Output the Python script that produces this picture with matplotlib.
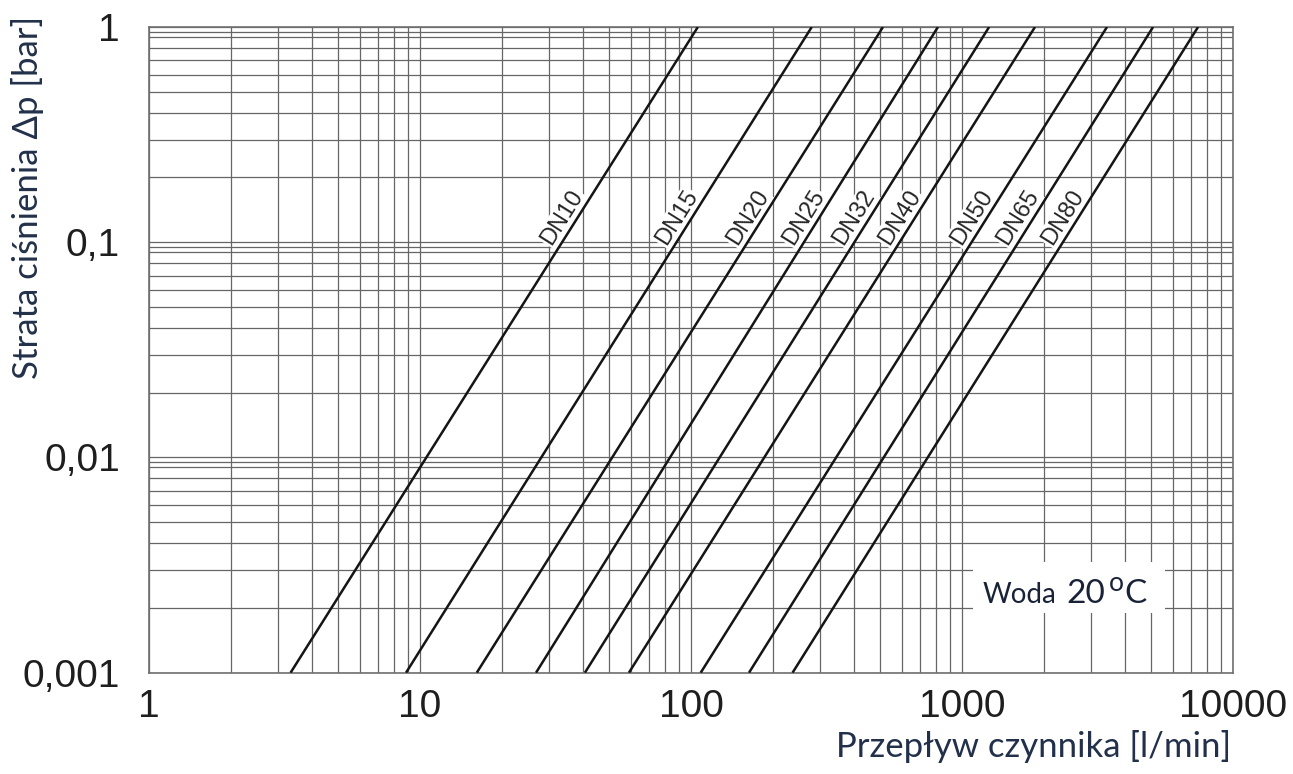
import numpy as np
import matplotlib
matplotlib.use('Agg')
import matplotlib.pyplot as plt
from matplotlib.ticker import LogLocator, NullFormatter
from matplotlib.patches import Rectangle

# pipe sizes and flow [l/min] read at both ends of each line
dn_labels = ['DN10', 'DN15', 'DN20', 'DN25', 'DN32', 'DN40', 'DN50', 'DN65', 'DN80']
flow_at_1bar = [106, 279, 511, 815, 1259, 1859, 3428, 5070, 7430]
flow_at_1mbar = [3.33, 8.88, 16.2, 26.8, 40.6, 59.0, 108.6, 163.7, 237]
dp_top = 1.0
dp_bottom = 0.001
dp_label = 0.13

x_ticks = [1, 10, 100, 1000, 10000]
x_ticklabels = ['1', '10', '100', '1000', '10000']
y_ticks = [0.001, 0.01, 0.1, 1]
y_ticklabels = ['0,001', '0,01', '0,1', '1']

W, H = 1293, 774
fig = plt.figure(figsize=(W / 100, H / 100), dpi=100)
ax = fig.add_axes([149 / W, (H - 672.7) / H, 1084 / W, 645.7 / H])

ax.set_xscale('log')
ax.set_yscale('log')
ax.set_xlim(1, 10000)
ax.set_ylim(0.001, 1)

grid_col = '#666666'
ax.xaxis.set_minor_locator(LogLocator(base=10, subs=[2, 3, 4, 5, 6, 7, 8, 9]))
ax.yaxis.set_minor_locator(LogLocator(base=10, subs=[2, 3, 4, 5, 6, 7, 8, 9, 9.5]))
ax.xaxis.set_minor_formatter(NullFormatter())
ax.yaxis.set_minor_formatter(NullFormatter())
ax.grid(True, which='both', color=grid_col, lw=0.9, zorder=1)
ax.set_axisbelow(True)

ax.set_xticks(x_ticks, x_ticklabels)
ax.set_yticks(y_ticks, y_ticklabels)
ax.tick_params(which='both', length=0)
ax.tick_params(axis='x', pad=12, labelsize=28, labelcolor='#1e1e1e')
ax.tick_params(axis='y', pad=21, labelsize=28, labelcolor='#1e1e1e')
for lab in ax.get_xticklabels() + ax.get_yticklabels():
    lab.set_fontfamily('Liberation Sans')
for sp in ax.spines.values():
    sp.set_color('#707070')
    sp.set_linewidth(1.2)

# pressure drop lines
for name, q1, q0 in zip(dn_labels, flow_at_1bar, flow_at_1mbar):
    ax.plot([q0, q1], [dp_bottom, dp_top], color='#151515', lw=1.8, zorder=4,
            solid_capstyle='butt')
    # point on the line where the label sits
    t = (np.log10(dp_label) - np.log10(dp_bottom)) / (np.log10(dp_top) - np.log10(dp_bottom))
    qx = 10 ** (np.log10(q0) + t * (np.log10(q1) - np.log10(q0)))
    p0 = ax.transData.transform((q0, dp_bottom))
    p1 = ax.transData.transform((q1, dp_top))
    ang = np.degrees(np.arctan2(p1[1] - p0[1], p1[0] - p0[0]))
    ax.annotate(name, (qx, dp_label), xytext=(-11, 0), textcoords='offset points',
                rotation=ang, rotation_mode='anchor', ha='center', va='center',
                fontsize=17, family='Liberation Sans', color='#262626', zorder=3,
                bbox=dict(boxstyle='square,pad=0.05', fc='white', ec='none'))


def fx(px):
    return px / W


def fy(py):
    return 1 - py / H


# "Woda 20 oC" note with white box
ax.add_patch(Rectangle((fx(973), fy(613)), fx(1165) - fx(973), fy(562) - fy(613),
                       transform=fig.transFigure, fc='white', ec='none', zorder=3))
note_col = '#1a2238'
fig.text(fx(983), fy(603), 'Woda', family='Lato', fontsize=20, color=note_col,
         va='baseline', ha='left', zorder=5)
fig.text(fx(1066), fy(603), '20', family='Lato', fontsize=24, color=note_col,
         va='baseline', ha='left', zorder=5)
fig.text(fx(1109), fy(591), 'o', family='Lato', fontsize=19, color=note_col,
         va='baseline', ha='left', zorder=5)
fig.text(fx(1124), fy(603), 'C', family='Lato', fontsize=24, color=note_col,
         va='baseline', ha='left', zorder=5)

label_col = '#22304a'
fig.text(fx(1231), fy(757), 'Przepływ czynnika [l/min]', family='Lato', fontsize=25,
         color=label_col, ha='right', va='baseline')
fig.text(fx(28), fy(197), 'Strata ciśnienia Δp [bar]', family='Lato', fontsize=25,
         color=label_col, rotation=90, ha='center', va='center')

fig.savefig('out.png', dpi=100, facecolor='white')
